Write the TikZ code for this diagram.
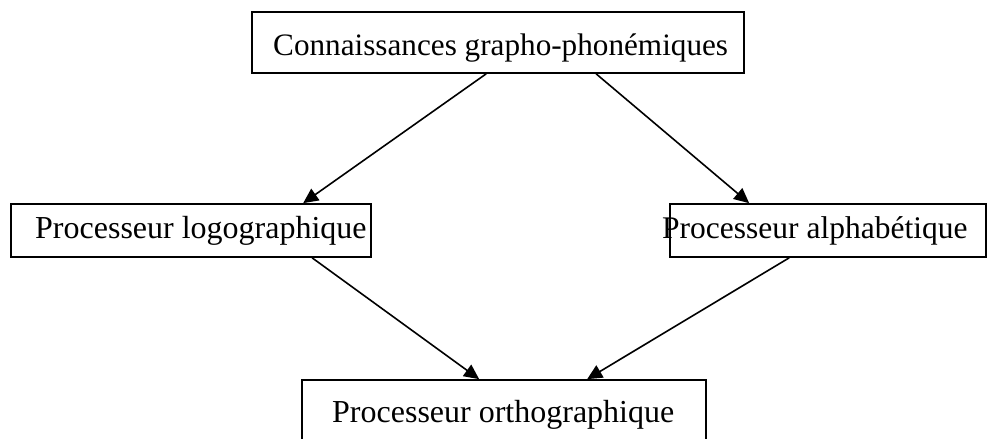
\documentclass[tikz,border=0pt]{standalone}
\usepackage{fontspec}
\setmainfont{Liberation Serif}
\usetikzlibrary{calc,arrows.meta}
\begin{document}
\begin{tikzpicture}[x=1pt,y=-1pt,
  box/.style={draw,line width=1.7pt,inner sep=0pt,rectangle},
  label/.style={anchor=base west,inner sep=0pt,font=\fontsize{#1}{38}\selectfont},
  label/.default=32,
  link/.style={line width=1.6pt,-{Triangle[length=15pt,width=14pt]}}]
\clip (0,0) rectangle (988,439);
% boxes
\node[box,minimum width=492pt,minimum height=61pt] (top) at (498,42.5) {};
\node[box,minimum width=360pt,minimum height=53pt] (left) at (191,230.5) {};
\node[box,minimum width=316pt,minimum height=53pt] (right) at (828,230.5) {};
\node[box,minimum width=404pt,minimum height=70pt] (bottom) at (504,415) {};
% texts
\node[label=31.2] (ttop) at (273,55) {Connaissances grapho-phonémiques};
\node[label] (tleft) at (35,238) {Processeur logographique};
\node[label=31.5] (tright) at (662,238) {Processeur alphabétique};
\node[label] (tbottom) at (332,422) {Processeur orthographique};
% arrows
\draw[link] ($(top.south west)+(235,0)$) -- ($(left.north west)+(293,0)$);
\draw[link] ($(top.south west)+(345,0)$) -- ($(right.north west)+(80,0)$);
\draw[link] ($(left.south west)+(302,0)$) -- ($(bottom.north west)+(178,0)$);
\draw[link] ($(right.south west)+(120,0)$) -- ($(bottom.north west)+(286,0)$);
\end{tikzpicture}
\end{document}
